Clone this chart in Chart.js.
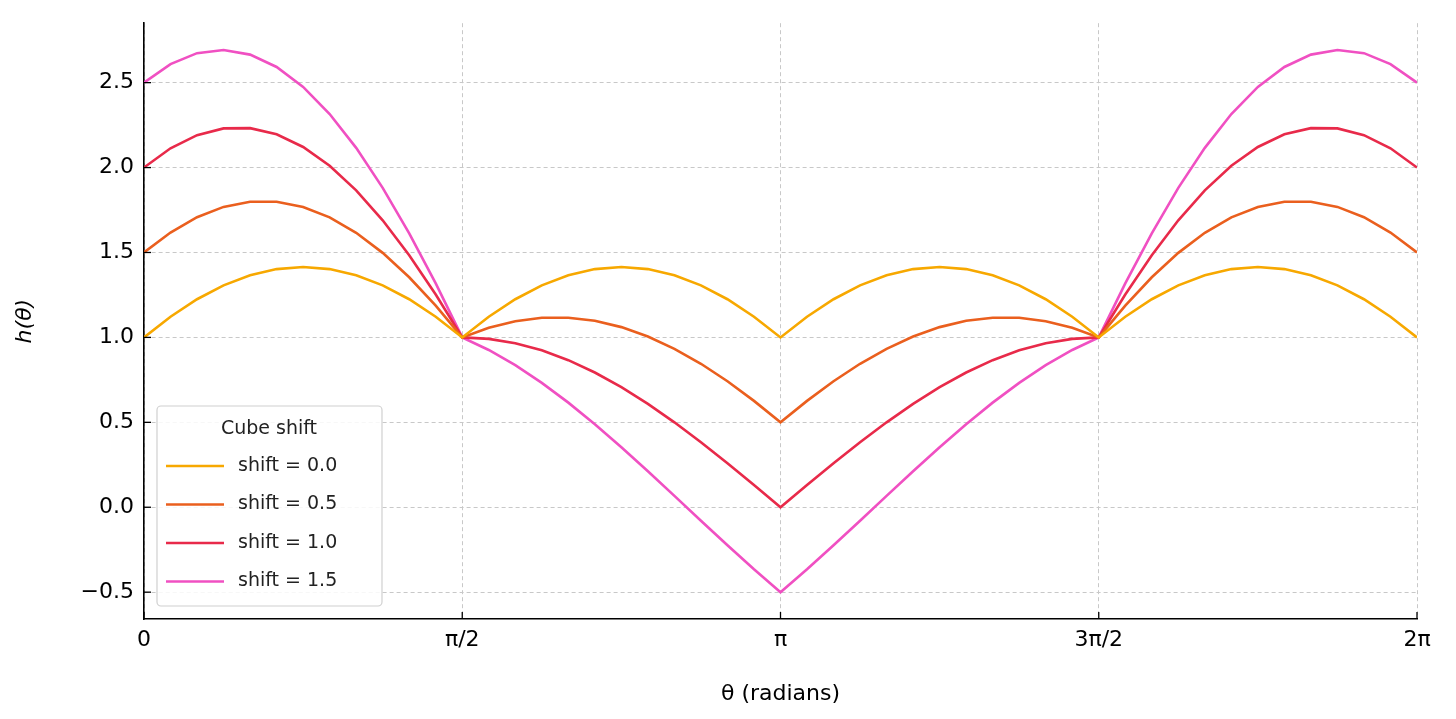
<!DOCTYPE html>
<html><head><meta charset="utf-8">
<script src="https://cdn.jsdelivr.net/npm/chart.js@4/dist/chart.umd.min.js"></script>
<style>html,body{margin:0;padding:0;background:#fff}#wrap{width:1456px;height:719px}</style>
</head><body><div id="wrap"><canvas id="c"></canvas></div>
<script>
const thetaDeg = [0,7.5,15,22.5,30,37.5,45,52.5,60,67.5,75,82.5,90,97.5,105,112.5,120,127.5,135,142.5,150,157.5,165,172.5,180,
187.5,195,202.5,210,217.5,225,232.5,240,247.5,255,262.5,270,277.5,285,292.5,300,307.5,315,322.5,330,337.5,345,352.5,360];
const xTicks = [0,90,180,270,360];
const xTickLabels = ['0','π/2','π','3π/2','2π'];
const yTicks = [-0.5,0,0.5,1,1.5,2,2.5];
const seriesLabels = ['shift = 0.0','shift = 0.5','shift = 1.0','shift = 1.5'];
const shift00 = [1,1.1219,1.2247,1.3066,1.3660,1.4022,1.4142,1.4022,1.3660,1.3066,1.2247,1.1219,1,1.1219,1.2247,1.3066,1.3660,1.4022,1.4142,1.4022,1.3660,1.3066,1.2247,1.1219,1,
1.1219,1.2247,1.3066,1.3660,1.4022,1.4142,1.4022,1.3660,1.3066,1.2247,1.1219,1,1.1219,1.2247,1.3066,1.3660,1.4022,1.4142,1.4022,1.3660,1.3066,1.2247,1.1219,1];
const shift05 = [1.5,1.6176,1.7077,1.7685,1.7990,1.7989,1.7678,1.7066,1.6160,1.4979,1.3541,1.1872,1,1.0566,1.0953,1.1153,1.1160,1.0978,1.0606,1.0055,0.9330,0.8447,0.7417,0.6262,0.5,
0.6262,0.7417,0.8447,0.9330,1.0055,1.0606,1.0978,1.1160,1.1153,1.0953,1.0566,1,1.1872,1.3541,1.4979,1.6160,1.7066,1.7678,1.7989,1.7990,1.7685,1.7077,1.6176,1.5];
const shift10 = [2,2.1133,2.1906,2.2305,2.2320,2.1956,2.1213,2.0110,1.8660,1.6893,1.4835,1.2524,1,0.9914,0.9659,0.9239,0.8660,0.7934,0.7071,0.6088,0.5,0.3827,0.2588,0.1305,0,
0.1305,0.2588,0.3827,0.5,0.6088,0.7071,0.7934,0.8660,0.9239,0.9659,0.9914,1,1.2524,1.4835,1.6893,1.8660,2.0110,2.1213,2.1956,2.2320,2.2305,2.1906,2.1133,2];
const shift15 = [2.5,2.6090,2.6736,2.6925,2.6650,2.5923,2.4749,2.3154,2.1160,1.8807,1.6129,1.3177,1,0.9261,0.8365,0.7325,0.6160,0.4890,0.3535,0.2121,0.0670,-0.0793,-0.2242,-0.3652,-0.5,
-0.3652,-0.2242,-0.0793,0.0670,0.2121,0.3535,0.4890,0.6160,0.7325,0.8365,0.9261,1,1.3177,1.6129,1.8807,2.1160,2.3154,2.4749,2.5923,2.6650,2.6925,2.6736,2.6090,2.5];
const colors = ['#f7a800','#ea5f1e','#e82a4a','#f050c2'];
const allSeries = [shift00,shift05,shift10,shift15];

const datasets = allSeries.map((s,i)=>({label:seriesLabels[i],data:s.map((y,j)=>({x:thetaDeg[j],y})),
  borderColor:colors[i],backgroundColor:colors[i],borderWidth:2.6,pointRadius:0,tension:0}));

const legendPlugin = {id:'lg',afterDraw(ch){
  const c=ch.ctx; c.save();
  const x=157,y=406,w=225,h=200;
  c.fillStyle='rgba(255,255,255,0.85)'; c.strokeStyle='#d0d0d0'; c.lineWidth=1.2;
  c.beginPath(); c.roundRect(x,y,w,h,4); c.fill(); c.stroke();
  c.fillStyle='#222'; c.font='19px "DejaVu Sans"'; c.textAlign='center'; c.textBaseline='middle';
  c.fillText('Cube shift',x+112,y+23);
  c.textAlign='left';
  ch.data.datasets.forEach((d,i)=>{
    const yy=y+60+i*38.5;
    c.strokeStyle=d.borderColor; c.lineWidth=2.6;
    c.beginPath(); c.moveTo(x+9,yy); c.lineTo(x+67,yy); c.stroke();
    c.fillStyle='#222'; c.fillText(d.label,x+81,yy);
  });
  // inward tick marks
  c.strokeStyle='#000'; c.lineWidth=1.3;
  const xs=ch.scales.x, ys=ch.scales.y, a=ch.chartArea;
  xTicks.forEach(v=>{const p=xs.getPixelForValue(v);c.beginPath();c.moveTo(p,a.bottom);c.lineTo(p,a.bottom-7);c.stroke();});
  yTicks.forEach(v=>{const p=ys.getPixelForValue(v);c.beginPath();c.moveTo(a.left,p);c.lineTo(a.left+7,p);c.stroke();});
  c.restore();
}};

new Chart(document.getElementById('c'),{type:'line',data:{datasets},
 options:{responsive:true,maintainAspectRatio:false,animation:false,
  layout:{padding:{top:18,right:39,left:8,bottom:8}},
  plugins:{legend:{display:false},tooltip:{enabled:false}},
  scales:{
   x:{type:'linear',min:0,max:360,
     afterBuildTicks:s=>{s.ticks=xTicks.map(v=>({value:v}));},
     afterFit:s=>{s.height=92;},
     ticks:{callback:(v)=>xTickLabels[xTicks.indexOf(v)],color:'#000',font:{size:22,family:'DejaVu Sans'},padding:8,maxRotation:0},
     grid:{color:'#c8c8c8',drawTicks:false,lineWidth:1},
     border:{color:'#000',width:1.6,dash:[4,3]},
     title:{display:true,text:'θ (radians)',color:'#000',font:{size:22,family:'DejaVu Sans'},padding:{top:2}}},
   y:{type:'linear',min:-0.658,max:2.85,
     afterBuildTicks:s=>{s.ticks=yTicks.map(v=>({value:v}));},
     afterFit:s=>{s.width=136;},
     ticks:{callback:v=>(v<0?'−':'')+Math.abs(v).toFixed(1),color:'#000',font:{size:22,family:'DejaVu Sans'},padding:10},
     grid:{color:'#c8c8c8',drawTicks:false,lineWidth:1},
     border:{color:'#000',width:1.6,dash:[4,3]},
     title:{display:true,text:'h(θ)',color:'#000',font:{size:22,family:'DejaVu Sans',style:'italic'}}}
  }},
 plugins:[legendPlugin]});
</script></body></html>
